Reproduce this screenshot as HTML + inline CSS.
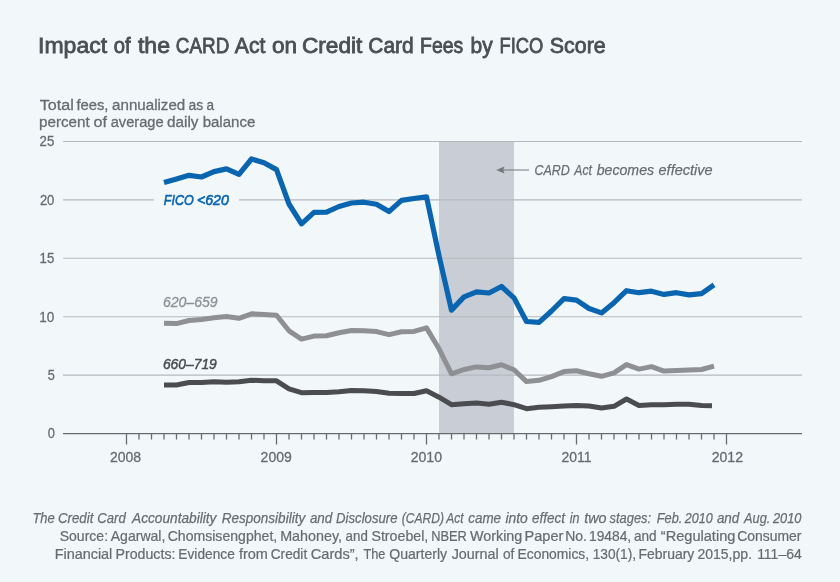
<!DOCTYPE html>
<html><head><meta charset="utf-8"><title>Impact of the CARD Act on Credit Card Fees by FICO Score</title>
<style>html,body{margin:0;padding:0;background:#f2f7fa;}body{width:840px;height:582px;overflow:hidden;}svg{display:block;will-change:transform;}</style>
</head><body>
<svg width="840" height="582" viewBox="0 0 840 582" style='font-family:"Liberation Sans", sans-serif'>
<rect x="0" y="0" width="840" height="582" fill="#f2f7fa"/>
<rect x="439" y="141" width="75" height="292.5" fill="#c9cdd5"/>
<line x1="63" y1="141.5" x2="802" y2="141.5" stroke="#b6babf" stroke-width="1.1"/>
<line x1="63" y1="199.9" x2="802" y2="199.9" stroke="#b6babf" stroke-width="1.1"/>
<line x1="63" y1="258.3" x2="802" y2="258.3" stroke="#b6babf" stroke-width="1.1"/>
<line x1="63" y1="316.7" x2="802" y2="316.7" stroke="#b6babf" stroke-width="1.1"/>
<line x1="63" y1="375.1" x2="802" y2="375.1" stroke="#b6babf" stroke-width="1.1"/>
<line x1="63" y1="433.5" x2="802" y2="433.5" stroke="#686b70" stroke-width="1.25"/>
<line x1="126.5" y1="433" x2="126.5" y2="444.5" stroke="#686b70" stroke-width="1.3"/>
<line x1="139.0" y1="433" x2="139.0" y2="439.5" stroke="#686b70" stroke-width="1.3"/>
<line x1="151.5" y1="433" x2="151.5" y2="439.5" stroke="#686b70" stroke-width="1.3"/>
<line x1="164.0" y1="433" x2="164.0" y2="439.5" stroke="#686b70" stroke-width="1.3"/>
<line x1="176.5" y1="433" x2="176.5" y2="439.5" stroke="#686b70" stroke-width="1.3"/>
<line x1="189.0" y1="433" x2="189.0" y2="439.5" stroke="#686b70" stroke-width="1.3"/>
<line x1="201.5" y1="433" x2="201.5" y2="439.5" stroke="#686b70" stroke-width="1.3"/>
<line x1="214.0" y1="433" x2="214.0" y2="439.5" stroke="#686b70" stroke-width="1.3"/>
<line x1="226.5" y1="433" x2="226.5" y2="439.5" stroke="#686b70" stroke-width="1.3"/>
<line x1="239.0" y1="433" x2="239.0" y2="439.5" stroke="#686b70" stroke-width="1.3"/>
<line x1="251.5" y1="433" x2="251.5" y2="439.5" stroke="#686b70" stroke-width="1.3"/>
<line x1="264.0" y1="433" x2="264.0" y2="439.5" stroke="#686b70" stroke-width="1.3"/>
<line x1="276.5" y1="433" x2="276.5" y2="444.5" stroke="#686b70" stroke-width="1.3"/>
<line x1="289.0" y1="433" x2="289.0" y2="439.5" stroke="#686b70" stroke-width="1.3"/>
<line x1="301.5" y1="433" x2="301.5" y2="439.5" stroke="#686b70" stroke-width="1.3"/>
<line x1="314.0" y1="433" x2="314.0" y2="439.5" stroke="#686b70" stroke-width="1.3"/>
<line x1="326.5" y1="433" x2="326.5" y2="439.5" stroke="#686b70" stroke-width="1.3"/>
<line x1="339.0" y1="433" x2="339.0" y2="439.5" stroke="#686b70" stroke-width="1.3"/>
<line x1="351.5" y1="433" x2="351.5" y2="439.5" stroke="#686b70" stroke-width="1.3"/>
<line x1="364.0" y1="433" x2="364.0" y2="439.5" stroke="#686b70" stroke-width="1.3"/>
<line x1="376.5" y1="433" x2="376.5" y2="439.5" stroke="#686b70" stroke-width="1.3"/>
<line x1="389.0" y1="433" x2="389.0" y2="439.5" stroke="#686b70" stroke-width="1.3"/>
<line x1="401.5" y1="433" x2="401.5" y2="439.5" stroke="#686b70" stroke-width="1.3"/>
<line x1="414.0" y1="433" x2="414.0" y2="439.5" stroke="#686b70" stroke-width="1.3"/>
<line x1="426.5" y1="433" x2="426.5" y2="444.5" stroke="#686b70" stroke-width="1.3"/>
<line x1="439.0" y1="433" x2="439.0" y2="439.5" stroke="#686b70" stroke-width="1.3"/>
<line x1="451.5" y1="433" x2="451.5" y2="439.5" stroke="#686b70" stroke-width="1.3"/>
<line x1="464.0" y1="433" x2="464.0" y2="439.5" stroke="#686b70" stroke-width="1.3"/>
<line x1="476.5" y1="433" x2="476.5" y2="439.5" stroke="#686b70" stroke-width="1.3"/>
<line x1="489.0" y1="433" x2="489.0" y2="439.5" stroke="#686b70" stroke-width="1.3"/>
<line x1="501.5" y1="433" x2="501.5" y2="439.5" stroke="#686b70" stroke-width="1.3"/>
<line x1="514.0" y1="433" x2="514.0" y2="439.5" stroke="#686b70" stroke-width="1.3"/>
<line x1="526.5" y1="433" x2="526.5" y2="439.5" stroke="#686b70" stroke-width="1.3"/>
<line x1="539.0" y1="433" x2="539.0" y2="439.5" stroke="#686b70" stroke-width="1.3"/>
<line x1="551.5" y1="433" x2="551.5" y2="439.5" stroke="#686b70" stroke-width="1.3"/>
<line x1="564.0" y1="433" x2="564.0" y2="439.5" stroke="#686b70" stroke-width="1.3"/>
<line x1="576.5" y1="433" x2="576.5" y2="444.5" stroke="#686b70" stroke-width="1.3"/>
<line x1="589.0" y1="433" x2="589.0" y2="439.5" stroke="#686b70" stroke-width="1.3"/>
<line x1="601.5" y1="433" x2="601.5" y2="439.5" stroke="#686b70" stroke-width="1.3"/>
<line x1="614.0" y1="433" x2="614.0" y2="439.5" stroke="#686b70" stroke-width="1.3"/>
<line x1="626.5" y1="433" x2="626.5" y2="439.5" stroke="#686b70" stroke-width="1.3"/>
<line x1="639.0" y1="433" x2="639.0" y2="439.5" stroke="#686b70" stroke-width="1.3"/>
<line x1="651.5" y1="433" x2="651.5" y2="439.5" stroke="#686b70" stroke-width="1.3"/>
<line x1="664.0" y1="433" x2="664.0" y2="439.5" stroke="#686b70" stroke-width="1.3"/>
<line x1="676.5" y1="433" x2="676.5" y2="439.5" stroke="#686b70" stroke-width="1.3"/>
<line x1="689.0" y1="433" x2="689.0" y2="439.5" stroke="#686b70" stroke-width="1.3"/>
<line x1="701.5" y1="433" x2="701.5" y2="439.5" stroke="#686b70" stroke-width="1.3"/>
<line x1="714.0" y1="433" x2="714.0" y2="439.5" stroke="#686b70" stroke-width="1.3"/>
<line x1="726.5" y1="433" x2="726.5" y2="444.5" stroke="#686b70" stroke-width="1.3"/>
<rect x="154" y="190" width="85" height="18" fill="#f2f7fa"/>
<polyline points="164.0,385.0 176.5,385.0 189.0,382.5 201.5,382.5 214.0,381.8 226.5,382.2 239.0,381.8 251.5,380.2 264.0,380.8 276.5,380.8 289.0,388.8 301.5,392.7 314.0,392.5 326.5,392.5 339.0,391.8 351.5,390.5 364.0,390.8 376.5,391.5 389.0,393.3 401.5,393.5 414.0,393.5 426.5,390.8 439.0,397.2 451.5,404.7 464.0,403.8 476.5,403.0 489.0,404.2 501.5,402.2 514.0,404.7 526.5,408.7 539.0,407.3 551.5,406.7 564.0,406.0 576.5,405.5 589.0,406.0 601.5,408.0 614.0,406.3 626.5,399.0 639.0,405.5 651.5,404.7 664.0,404.7 676.5,404.2 689.0,404.2 701.5,405.5 712.0,405.8" fill="none" stroke="#4a4c50" stroke-width="5" stroke-linejoin="round"/>
<polyline points="164.0,323.3 176.5,323.6 189.0,320.5 201.5,319.5 214.0,317.8 226.5,316.6 239.0,318.3 251.5,313.8 264.0,314.6 276.5,315.2 289.0,330.8 301.5,339.1 314.0,336.1 326.5,335.8 339.0,332.8 351.5,330.5 364.0,330.8 376.5,331.6 389.0,334.6 401.5,331.8 414.0,331.4 426.5,327.9 439.0,348.8 451.5,373.8 464.0,369.5 476.5,366.9 489.0,367.8 501.5,364.8 514.0,369.8 526.5,381.6 539.0,380.3 551.5,376.6 564.0,371.6 576.5,370.8 589.0,373.8 601.5,376.3 614.0,372.8 626.5,364.6 639.0,369.1 651.5,366.6 664.0,371.1 676.5,370.5 689.0,370.1 701.5,369.5 714.0,366.1" fill="none" stroke="#8e9094" stroke-width="5" stroke-linejoin="round"/>
<polyline points="164.0,182.6 176.5,179.0 189.0,175.3 201.5,177.0 214.0,171.6 226.5,168.9 239.0,174.4 251.5,159.0 264.0,162.8 276.5,169.6 289.0,204.0 301.5,223.8 314.0,212.3 326.5,212.2 339.0,206.5 351.5,203.0 364.0,202.2 376.5,204.2 389.0,211.6 401.5,200.4 414.0,198.5 426.5,196.8 439.0,255.7 451.5,310.1 464.0,296.9 476.5,291.8 489.0,293.0 501.5,286.5 514.0,297.9 526.5,321.5 539.0,322.4 551.5,311.0 564.0,298.7 576.5,300.2 589.0,308.5 601.5,312.9 614.0,302.7 626.5,290.7 639.0,292.7 651.5,291.2 664.0,294.4 676.5,292.7 689.0,294.9 701.5,293.7 714.0,284.9" fill="none" stroke="#0965b0" stroke-width="5.2" stroke-linejoin="round"/>
<line x1="503" y1="170" x2="529" y2="170" stroke="#74777c" stroke-width="1.0"/>
<path d="M496.2,170 L504.5,166.6 L503.2,170 L504.5,173.6 Z" fill="#74777c"/>
<text x="38.05" y="52.9" font-size="22" fill="#4b4e53" stroke="#4b4e53" stroke-width="0.8" textLength="69.03" lengthAdjust="spacingAndGlyphs">Impact</text>
<text x="113.80" y="52.9" font-size="22" fill="#4b4e53" stroke="#4b4e53" stroke-width="0.8" textLength="16.91" lengthAdjust="spacingAndGlyphs">of</text>
<text x="137.90" y="52.9" font-size="22" fill="#4b4e53" stroke="#4b4e53" stroke-width="0.8" textLength="32.12" lengthAdjust="spacingAndGlyphs">the</text>
<text x="175.84" y="52.9" font-size="22" fill="#4b4e53" stroke="#4b4e53" stroke-width="0.8" textLength="53.45" lengthAdjust="spacingAndGlyphs">CARD</text>
<text x="234.80" y="52.9" font-size="22" fill="#4b4e53" stroke="#4b4e53" stroke-width="0.8" textLength="30.60" lengthAdjust="spacingAndGlyphs">Act</text>
<text x="271.90" y="52.9" font-size="22" fill="#4b4e53" stroke="#4b4e53" stroke-width="0.8" textLength="25.10" lengthAdjust="spacingAndGlyphs">on</text>
<text x="301.97" y="52.9" font-size="22" fill="#4b4e53" stroke="#4b4e53" stroke-width="0.8" textLength="60.41" lengthAdjust="spacingAndGlyphs">Credit</text>
<text x="368.25" y="52.9" font-size="22" fill="#4b4e53" stroke="#4b4e53" stroke-width="0.8" textLength="45.41" lengthAdjust="spacingAndGlyphs">Card</text>
<text x="420.12" y="52.9" font-size="22" fill="#4b4e53" stroke="#4b4e53" stroke-width="0.8" textLength="43.21" lengthAdjust="spacingAndGlyphs">Fees</text>
<text x="470.55" y="52.9" font-size="22" fill="#4b4e53" stroke="#4b4e53" stroke-width="0.8" textLength="22.14" lengthAdjust="spacingAndGlyphs">by</text>
<text x="499.57" y="52.9" font-size="22" fill="#4b4e53" stroke="#4b4e53" stroke-width="0.8" textLength="43.70" lengthAdjust="spacingAndGlyphs">FICO</text>
<text x="549.83" y="52.9" font-size="22" fill="#4b4e53" stroke="#4b4e53" stroke-width="0.8" textLength="55.84" lengthAdjust="spacingAndGlyphs">Score</text>
<text x="39.80" y="109.8" font-size="15.5" fill="#686b70" stroke="#686b70" stroke-width="0.3" textLength="34.09" lengthAdjust="spacingAndGlyphs">Total</text>
<text x="76.40" y="109.8" font-size="15.5" fill="#686b70" stroke="#686b70" stroke-width="0.3" textLength="32.08" lengthAdjust="spacingAndGlyphs">fees,</text>
<text x="112.10" y="109.8" font-size="15.5" fill="#686b70" stroke="#686b70" stroke-width="0.3" textLength="73.16" lengthAdjust="spacingAndGlyphs">annualized</text>
<text x="188.60" y="109.8" font-size="15.5" fill="#686b70" stroke="#686b70" stroke-width="0.3" textLength="14.64" lengthAdjust="spacingAndGlyphs">as</text>
<text x="206.40" y="109.8" font-size="15.5" fill="#686b70" stroke="#686b70" stroke-width="0.3" textLength="7.57" lengthAdjust="spacingAndGlyphs">a</text>
<text x="39.02" y="127.4" font-size="15.5" fill="#686b70" stroke="#686b70" stroke-width="0.3" textLength="50.69" lengthAdjust="spacingAndGlyphs">percent</text>
<text x="93.60" y="127.4" font-size="15.5" fill="#686b70" stroke="#686b70" stroke-width="0.3" textLength="13.44" lengthAdjust="spacingAndGlyphs">of</text>
<text x="110.70" y="127.4" font-size="15.5" fill="#686b70" stroke="#686b70" stroke-width="0.3" textLength="52.91" lengthAdjust="spacingAndGlyphs">average</text>
<text x="167.10" y="127.4" font-size="15.5" fill="#686b70" stroke="#686b70" stroke-width="0.3" textLength="31.39" lengthAdjust="spacingAndGlyphs">daily</text>
<text x="202.63" y="127.4" font-size="15.5" fill="#686b70" stroke="#686b70" stroke-width="0.3" textLength="52.66" lengthAdjust="spacingAndGlyphs">balance</text>
<text x="39.60" y="146.3" font-size="15.1" fill="#686b70" stroke="#686b70" stroke-width="0.3" textLength="14.72" lengthAdjust="spacingAndGlyphs">25</text>
<text x="39.90" y="204.70000000000002" font-size="15.1" fill="#686b70" stroke="#686b70" stroke-width="0.3" textLength="14.43" lengthAdjust="spacingAndGlyphs">20</text>
<text x="39.62" y="263.1" font-size="15.1" fill="#686b70" stroke="#686b70" stroke-width="0.3" textLength="14.70" lengthAdjust="spacingAndGlyphs">15</text>
<text x="39.31" y="321.5" font-size="15.1" fill="#686b70" stroke="#686b70" stroke-width="0.3" textLength="15.01" lengthAdjust="spacingAndGlyphs">10</text>
<text x="47.80" y="379.90000000000003" font-size="15.1" fill="#686b70" stroke="#686b70" stroke-width="0.3" textLength="7.04" lengthAdjust="spacingAndGlyphs">5</text>
<text x="47.70" y="438.3" font-size="15.1" fill="#686b70" stroke="#686b70" stroke-width="0.3" textLength="7.15" lengthAdjust="spacingAndGlyphs">0</text>
<text x="110.00" y="461.7" font-size="15.5" fill="#686b70" stroke="#686b70" stroke-width="0.3" textLength="31.14" lengthAdjust="spacingAndGlyphs">2008</text>
<text x="260.60" y="461.7" font-size="15.5" fill="#686b70" stroke="#686b70" stroke-width="0.3" textLength="31.14" lengthAdjust="spacingAndGlyphs">2009</text>
<text x="410.70" y="461.7" font-size="15.5" fill="#686b70" stroke="#686b70" stroke-width="0.3" textLength="31.34" lengthAdjust="spacingAndGlyphs">2010</text>
<text x="561.40" y="461.7" font-size="15.5" fill="#686b70" stroke="#686b70" stroke-width="0.3" textLength="30.01" lengthAdjust="spacingAndGlyphs">2011</text>
<text x="711.70" y="461.7" font-size="15.5" fill="#686b70" stroke="#686b70" stroke-width="0.3" textLength="31.34" lengthAdjust="spacingAndGlyphs">2012</text>
<text x="163.80" y="204.8" font-size="15.5" font-style="italic" fill="#0965b0" stroke="#0965b0" stroke-width="0.65" textLength="29.83" lengthAdjust="spacingAndGlyphs">FICO</text>
<text x="196.99" y="204.8" font-size="15.5" font-style="italic" fill="#0965b0" stroke="#0965b0" stroke-width="0.65" textLength="31.84" lengthAdjust="spacingAndGlyphs">&lt;620</text>
<text x="162.89" y="307" font-size="15.5" font-style="italic" fill="#8e9094" stroke="#8e9094" stroke-width="0.3" textLength="54.82" lengthAdjust="spacingAndGlyphs">620–659</text>
<text x="162.91" y="369" font-size="15.5" font-style="italic" fill="#4a4c50" stroke="#4a4c50" stroke-width="0.5" textLength="53.91" lengthAdjust="spacingAndGlyphs">660–719</text>
<text x="534.55" y="174.6" font-size="14.7" font-style="italic" fill="#6a6d72" stroke="#6a6d72" stroke-width="0.25" textLength="35.28" lengthAdjust="spacingAndGlyphs">CARD</text>
<text x="574.33" y="174.6" font-size="14.7" font-style="italic" fill="#6a6d72" stroke="#6a6d72" stroke-width="0.25" textLength="17.54" lengthAdjust="spacingAndGlyphs">Act</text>
<text x="596.70" y="174.6" font-size="14.7" font-style="italic" fill="#6a6d72" stroke="#6a6d72" stroke-width="0.25" textLength="57.42" lengthAdjust="spacingAndGlyphs">becomes</text>
<text x="658.57" y="174.6" font-size="14.7" font-style="italic" fill="#6a6d72" stroke="#6a6d72" stroke-width="0.25" textLength="53.95" lengthAdjust="spacingAndGlyphs">effective</text>
<text x="32.40" y="522.6" font-size="14.5" font-style="italic" fill="#6a6d72" stroke="#6a6d72" stroke-width="0.25" textLength="22.40" lengthAdjust="spacingAndGlyphs">The</text>
<text x="57.98" y="522.6" font-size="14.5" font-style="italic" fill="#6a6d72" stroke="#6a6d72" stroke-width="0.25" textLength="35.41" lengthAdjust="spacingAndGlyphs">Credit</text>
<text x="97.29" y="522.6" font-size="14.5" font-style="italic" fill="#6a6d72" stroke="#6a6d72" stroke-width="0.25" textLength="28.50" lengthAdjust="spacingAndGlyphs">Card</text>
<text x="132.04" y="522.6" font-size="14.5" font-style="italic" fill="#6a6d72" stroke="#6a6d72" stroke-width="0.25" textLength="84.36" lengthAdjust="spacingAndGlyphs">Accountability</text>
<text x="221.70" y="522.6" font-size="14.5" font-style="italic" fill="#6a6d72" stroke="#6a6d72" stroke-width="0.25" textLength="83.50" lengthAdjust="spacingAndGlyphs">Responsibility</text>
<text x="309.90" y="522.6" font-size="14.5" font-style="italic" fill="#6a6d72" stroke="#6a6d72" stroke-width="0.25" textLength="22.46" lengthAdjust="spacingAndGlyphs">and</text>
<text x="336.10" y="522.6" font-size="14.5" font-style="italic" fill="#6a6d72" stroke="#6a6d72" stroke-width="0.25" textLength="61.42" lengthAdjust="spacingAndGlyphs">Disclosure</text>
<text x="401.70" y="522.6" font-size="14.5" font-style="italic" fill="#6a6d72" stroke="#6a6d72" stroke-width="0.25" textLength="42.22" lengthAdjust="spacingAndGlyphs">(CARD)</text>
<text x="446.28" y="522.6" font-size="14.5" font-style="italic" fill="#6a6d72" stroke="#6a6d72" stroke-width="0.25" textLength="17.29" lengthAdjust="spacingAndGlyphs">Act</text>
<text x="468.30" y="522.6" font-size="14.5" font-style="italic" fill="#6a6d72" stroke="#6a6d72" stroke-width="0.25" textLength="32.73" lengthAdjust="spacingAndGlyphs">came</text>
<text x="505.40" y="522.6" font-size="14.5" font-style="italic" fill="#6a6d72" stroke="#6a6d72" stroke-width="0.25" textLength="22.37" lengthAdjust="spacingAndGlyphs">into</text>
<text x="532.10" y="522.6" font-size="14.5" font-style="italic" fill="#6a6d72" stroke="#6a6d72" stroke-width="0.25" textLength="32.91" lengthAdjust="spacingAndGlyphs">effect</text>
<text x="569.80" y="522.6" font-size="14.5" font-style="italic" fill="#6a6d72" stroke="#6a6d72" stroke-width="0.25" textLength="9.76" lengthAdjust="spacingAndGlyphs">in</text>
<text x="584.19" y="522.6" font-size="14.5" font-style="italic" fill="#6a6d72" stroke="#6a6d72" stroke-width="0.25" textLength="22.30" lengthAdjust="spacingAndGlyphs">two</text>
<text x="609.60" y="522.6" font-size="14.5" font-style="italic" fill="#6a6d72" stroke="#6a6d72" stroke-width="0.25" textLength="41.48" lengthAdjust="spacingAndGlyphs">stages:</text>
<text x="656.80" y="522.6" font-size="14.5" font-style="italic" fill="#6a6d72" stroke="#6a6d72" stroke-width="0.25" textLength="25.58" lengthAdjust="spacingAndGlyphs">Feb.</text>
<text x="684.80" y="522.6" font-size="14.5" font-style="italic" fill="#6a6d72" stroke="#6a6d72" stroke-width="0.25" textLength="27.87" lengthAdjust="spacingAndGlyphs">2010</text>
<text x="716.90" y="522.6" font-size="14.5" font-style="italic" fill="#6a6d72" stroke="#6a6d72" stroke-width="0.25" textLength="22.46" lengthAdjust="spacingAndGlyphs">and</text>
<text x="744.08" y="522.6" font-size="14.5" font-style="italic" fill="#6a6d72" stroke="#6a6d72" stroke-width="0.25" textLength="26.34" lengthAdjust="spacingAndGlyphs">Aug.</text>
<text x="773.00" y="522.6" font-size="14.5" font-style="italic" fill="#6a6d72" stroke="#6a6d72" stroke-width="0.25" textLength="28.45" lengthAdjust="spacingAndGlyphs">2010</text>
<text x="59.73" y="540.5" font-size="14.5" fill="#686b70" stroke="#686b70" stroke-width="0.22" textLength="48.32" lengthAdjust="spacingAndGlyphs">Source:</text>
<text x="110.70" y="540.5" font-size="14.5" fill="#686b70" stroke="#686b70" stroke-width="0.22" textLength="54.71" lengthAdjust="spacingAndGlyphs">Agarwal,</text>
<text x="167.63" y="540.5" font-size="14.5" fill="#686b70" stroke="#686b70" stroke-width="0.22" textLength="109.59" lengthAdjust="spacingAndGlyphs">Chomsisengphet,</text>
<text x="280.21" y="540.5" font-size="14.5" fill="#686b70" stroke="#686b70" stroke-width="0.22" textLength="61.79" lengthAdjust="spacingAndGlyphs">Mahoney,</text>
<text x="345.60" y="540.5" font-size="14.5" fill="#686b70" stroke="#686b70" stroke-width="0.22" textLength="22.19" lengthAdjust="spacingAndGlyphs">and</text>
<text x="371.42" y="540.5" font-size="14.5" fill="#686b70" stroke="#686b70" stroke-width="0.22" textLength="56.91" lengthAdjust="spacingAndGlyphs">Stroebel,</text>
<text x="431.22" y="540.5" font-size="14.5" fill="#686b70" stroke="#686b70" stroke-width="0.22" textLength="35.53" lengthAdjust="spacingAndGlyphs">NBER</text>
<text x="470.00" y="540.5" font-size="14.5" fill="#686b70" stroke="#686b70" stroke-width="0.22" textLength="52.31" lengthAdjust="spacingAndGlyphs">Working</text>
<text x="524.60" y="540.5" font-size="14.5" fill="#686b70" stroke="#686b70" stroke-width="0.22" textLength="38.80" lengthAdjust="spacingAndGlyphs">Paper</text>
<text x="565.24" y="540.5" font-size="14.5" fill="#686b70" stroke="#686b70" stroke-width="0.22" textLength="21.72" lengthAdjust="spacingAndGlyphs">No.</text>
<text x="589.05" y="540.5" font-size="14.5" fill="#686b70" stroke="#686b70" stroke-width="0.22" textLength="42.14" lengthAdjust="spacingAndGlyphs">19484,</text>
<text x="634.00" y="540.5" font-size="14.5" fill="#686b70" stroke="#686b70" stroke-width="0.22" textLength="22.69" lengthAdjust="spacingAndGlyphs">and</text>
<text x="660.80" y="540.5" font-size="14.5" fill="#686b70" stroke="#686b70" stroke-width="0.22" textLength="74.58" lengthAdjust="spacingAndGlyphs">“Regulating</text>
<text x="737.14" y="540.5" font-size="14.5" fill="#686b70" stroke="#686b70" stroke-width="0.22" textLength="64.26" lengthAdjust="spacingAndGlyphs">Consumer</text>
<text x="54.71" y="559.2" font-size="14.5" fill="#686b70" stroke="#686b70" stroke-width="0.22" textLength="57.62" lengthAdjust="spacingAndGlyphs">Financial</text>
<text x="115.52" y="559.2" font-size="14.5" fill="#686b70" stroke="#686b70" stroke-width="0.22" textLength="59.90" lengthAdjust="spacingAndGlyphs">Products:</text>
<text x="178.35" y="559.2" font-size="14.5" fill="#686b70" stroke="#686b70" stroke-width="0.22" textLength="56.47" lengthAdjust="spacingAndGlyphs">Evidence</text>
<text x="238.90" y="559.2" font-size="14.5" fill="#686b70" stroke="#686b70" stroke-width="0.22" textLength="29.00" lengthAdjust="spacingAndGlyphs">from</text>
<text x="270.76" y="559.2" font-size="14.5" fill="#686b70" stroke="#686b70" stroke-width="0.22" textLength="36.45" lengthAdjust="spacingAndGlyphs">Credit</text>
<text x="310.69" y="559.2" font-size="14.5" fill="#686b70" stroke="#686b70" stroke-width="0.22" textLength="47.96" lengthAdjust="spacingAndGlyphs">Cards”,</text>
<text x="363.39" y="559.2" font-size="14.5" fill="#686b70" stroke="#686b70" stroke-width="0.22" textLength="21.92" lengthAdjust="spacingAndGlyphs">The</text>
<text x="389.20" y="559.2" font-size="14.5" fill="#686b70" stroke="#686b70" stroke-width="0.22" textLength="57.95" lengthAdjust="spacingAndGlyphs">Quarterly</text>
<text x="451.70" y="559.2" font-size="14.5" fill="#686b70" stroke="#686b70" stroke-width="0.22" textLength="47.06" lengthAdjust="spacingAndGlyphs">Journal</text>
<text x="503.00" y="559.2" font-size="14.5" fill="#686b70" stroke="#686b70" stroke-width="0.22" textLength="11.39" lengthAdjust="spacingAndGlyphs">of</text>
<text x="517.55" y="559.2" font-size="14.5" fill="#686b70" stroke="#686b70" stroke-width="0.22" textLength="71.56" lengthAdjust="spacingAndGlyphs">Economics,</text>
<text x="592.65" y="559.2" font-size="14.5" fill="#686b70" stroke="#686b70" stroke-width="0.22" textLength="43.45" lengthAdjust="spacingAndGlyphs">130(1),</text>
<text x="638.44" y="559.2" font-size="14.5" fill="#686b70" stroke="#686b70" stroke-width="0.22" textLength="55.89" lengthAdjust="spacingAndGlyphs">February</text>
<text x="697.54" y="559.2" font-size="14.5" fill="#686b70" stroke="#686b70" stroke-width="0.22" textLength="34.91" lengthAdjust="spacingAndGlyphs">2015,</text>
<text x="732.53" y="559.2" font-size="14.5" fill="#686b70" stroke="#686b70" stroke-width="0.22" textLength="19.61" lengthAdjust="spacingAndGlyphs">pp.</text>
<text x="757.14" y="559.2" font-size="14.5" fill="#686b70" stroke="#686b70" stroke-width="0.22" textLength="44.59" lengthAdjust="spacingAndGlyphs">111–64</text>
</svg>
</body></html>
